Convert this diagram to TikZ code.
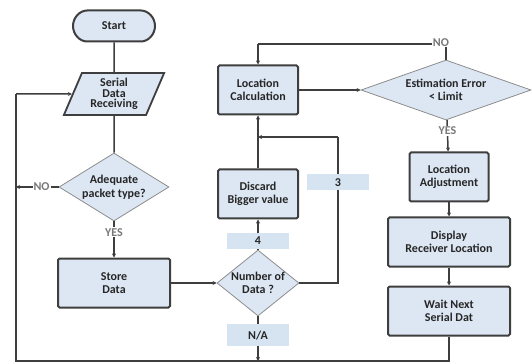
\documentclass[tikz,border=0pt]{standalone}
\usepackage{fontspec}
\setmainfont{Carlito}
\usetikzlibrary{shapes.geometric,shapes.misc,arrows.meta}
\definecolor{boxfill}{RGB}{221,231,243}
\definecolor{boxline}{RGB}{62,62,62}
\definecolor{dmline}{RGB}{140,140,140}
\definecolor{lblgray}{RGB}{120,120,120}
\definecolor{lblfill}{RGB}{214,228,242}
\begin{document}
\begin{tikzpicture}[x=1pt,y=-1pt,
  every node/.style={font=\bfseries\fontsize{12}{13.5}\selectfont, text=black!85, align=center},
  procbox/.style={draw=boxline, fill=boxfill, line width=2pt, rounded corners=1.5pt, inner sep=0pt},
  decide/.style={diamond, draw=dmline, fill=boxfill, line width=0.8pt, inner sep=0pt},
  yesno/.style={text=lblgray, fill=white, inner sep=1pt},
  numlbl/.style={fill=lblfill, inner sep=0pt, minimum width=62, minimum height=16},
  conn/.style={draw=boxline, line width=1.5pt},
  arr/.style={conn, -{Stealth[length=4pt,width=4pt]}}
]
\useasboundingbox (0,0) rectangle (532,363);
% nodes
\node[procbox, rounded rectangle, minimum width=82, minimum height=31] (start) at (114,26) {Start};
\node[trapezium, trapezium left angle=67, trapezium right angle=113, trapezium stretches=true,
      draw=boxline, fill=boxfill, line width=1.8pt, minimum width=101, minimum height=42, inner sep=0pt] (serial) at (114,94) {Serial\\[-3pt]Data\\[-3pt]Receiving};
\node[decide, shape aspect=1.6, minimum width=110, minimum height=68] (adeq) at (114,187) {Adequate\\packet type?};
\node[procbox, minimum width=112, minimum height=49] (store) at (114,283) {Store\\Data};
\node[procbox, minimum width=80, minimum height=49] (loc) at (258,90) {Location\\Calculation};
\node[procbox, minimum width=80, minimum height=49] (disc) at (258,194) {Discard\\Bigger value};
\node[decide, shape aspect=1.24, inner sep=-2pt, minimum width=82, minimum height=66] (num) at (258,283) {Number of\\Data ?};
\node[decide, shape aspect=2.83, minimum width=170, minimum height=60] (est) at (446,90) {Estimation Error\\< Limit};
\node[procbox, minimum width=79, minimum height=49] (adj) at (449,177) {Location\\Adjustment};
\node[procbox, minimum width=122, minimum height=49] (disp) at (449,242) {Display\\Receiver Location};
\node[procbox, minimum width=122, minimum height=49] (wait) at (449,311) {Wait Next\\Serial Dat};
% coordinates
\coordinate (bl) at (16,361);
\coordinate (tl) at (16,94);
\coordinate (nb) at (258,361);
\coordinate (wb) at (449,361);
\coordinate (r3) at (338,283);
\coordinate (t3) at (338,137);
\coordinate (j3) at (258,137);
\coordinate (etop) at (446,44);
\coordinate (ltop) at (258,44);
\coordinate (nol) at (16,187);
% connectors
\draw[conn] (start) -- (serial);
\draw[conn] (serial) -- (adeq);
\draw[arr] (adeq) -- node[yesno, pos=0.3]{YES} (store);
\draw[arr] (adeq.west) -- node[yesno, pos=0.4]{NO} (nol);
\draw[arr] (store) -- (num);
\draw[arr] (num) -- node[numlbl, pos=0.3]{4} (disc);
\draw[arr] (disc) -- (loc);
\draw[conn] (num.east) -- (r3) -- node[numlbl, pos=0.69]{3} (t3);
\draw[arr] (t3) -- (j3);
\draw[arr] (num) -- node[numlbl, minimum height=22, pos=0.42]{N/A} (nb);
\draw[arr] (loc) -- (est);
\draw[conn] (est.north) -- (etop) -- (ltop);
\node[yesno, inner sep=0.5pt] (nolbl) at (441,43) {NO};
\draw[arr] (ltop) -- (loc);
\draw[arr] (est) -- node[yesno, pos=0.35]{YES} (adj);
\draw[arr] (adj) -- (disp);
\draw[arr] (disp) -- (wait);
\draw[conn] (wait) -- (wb) -- (bl) -- (tl);
\draw[arr] (tl) -- (serial);
\end{tikzpicture}
\end{document}
